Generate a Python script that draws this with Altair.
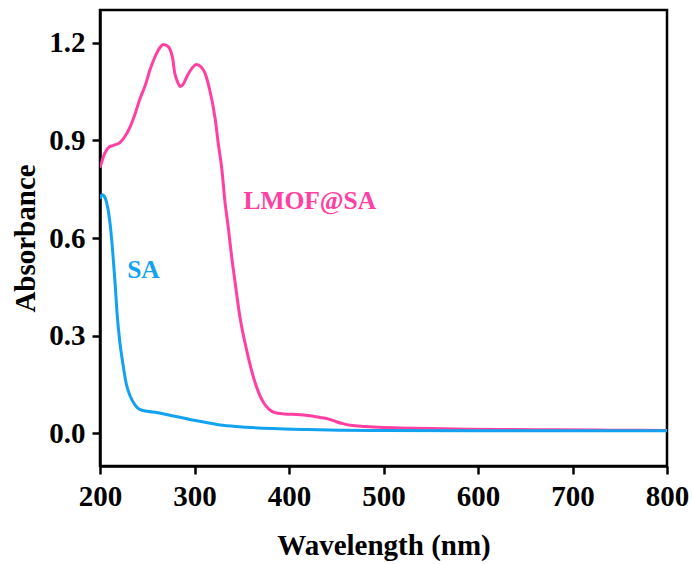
import altair as alt
import pandas as pd

# LMOF@SA spectrum (wavelength nm, absorbance)
lmof_wl = [200, 205, 210, 215, 221, 226, 232, 237, 242, 248, 253, 258, 263, 267, 271, 274, 277, 279, 282, 285, 288, 292, 297, 302, 307, 311, 316, 322, 325, 329, 332, 336, 339, 343, 348, 355, 364, 373, 379, 385, 395, 408, 420, 433, 443, 450, 457, 465, 480, 500, 517, 550, 590, 623, 680, 740, 800]
lmof_ab = [0.816, 0.86, 0.88, 0.885, 0.893, 0.91, 0.942, 0.98, 1.025, 1.07, 1.117, 1.155, 1.183, 1.194, 1.19, 1.18, 1.15, 1.108, 1.08, 1.065, 1.072, 1.096, 1.12, 1.133, 1.125, 1.107, 1.056, 0.964, 0.893, 0.81, 0.718, 0.626, 0.55, 0.463, 0.359, 0.258, 0.157, 0.095, 0.074, 0.064, 0.060, 0.058, 0.055, 0.049, 0.043, 0.036, 0.030, 0.025, 0.021, 0.018, 0.017, 0.015, 0.013, 0.012, 0.011, 0.010, 0.009]

# SA spectrum
sa_wl = [200, 202, 204, 207, 210, 213, 216, 218, 221, 224, 228, 232, 237, 242, 250, 260, 275, 295, 310, 330, 355, 383, 420, 454, 500, 600, 700, 800]
sa_ab = [0.72, 0.733, 0.73, 0.709, 0.66, 0.574, 0.46, 0.371, 0.28, 0.218, 0.15, 0.114, 0.088, 0.074, 0.068, 0.064, 0.055, 0.043, 0.035, 0.025, 0.019, 0.015, 0.012, 0.010, 0.009, 0.008, 0.008, 0.008]

# series label positions (wavelength, absorbance)
label_text = ["LMOF@SA", "SA"]
label_wl = [422, 246]
label_ab = [0.715, 0.503]

pink = "#FF40A2"
blue = "#12A2F0"

df = pd.concat([
    pd.DataFrame({"wl": lmof_wl, "ab": lmof_ab, "s": "LMOF@SA"}),
    pd.DataFrame({"wl": sa_wl, "ab": sa_ab, "s": "SA"}),
])

labels = pd.DataFrame({"wl": label_wl, "ab": label_ab, "s": label_text})

font = "Liberation Serif"

x = alt.X("wl:Q", scale=alt.Scale(domain=[200, 800], nice=False, zero=False),
          axis=alt.Axis(title="Wavelength (nm)", values=[200, 300, 400, 500, 600, 700, 800],
                        format="d", labelPadding=8, titlePadding=20, labelFlush=False))
y = alt.Y("ab:Q", scale=alt.Scale(domain=[-0.1, 1.3], nice=False, zero=False),
          axis=alt.Axis(title="Absorbance", values=[0.0, 0.3, 0.6, 0.9, 1.2],
                        format=".1f", labelPadding=7, titlePadding=8, labelFlush=False))

color = alt.Color("s:N", scale=alt.Scale(domain=["LMOF@SA", "SA"], range=[pink, blue]), legend=None)

lines = alt.Chart(df).mark_line(strokeWidth=3, interpolate="monotone", clip=True).encode(
    x=x, y=y, color=color, detail="s:N")

text = alt.Chart(labels).mark_text(font=font, fontWeight="bold", fontSize=25.5, align="center", baseline="middle").encode(
    x="wl:Q", y="ab:Q", text="s:N", color=color)

chart = (lines + text).properties(
    width=567, height=456,
    autosize=alt.AutoSizeParams(type="none"),
    padding={"left": 100, "top": 10, "right": 25, "bottom": 98},
).configure_view(
    stroke="black", strokeWidth=2.5
).configure_axis(
    grid=False, domainColor="black", domainWidth=2.5, tickColor="black", tickWidth=2.5,
    tickSize=8, labelFont=font, labelFontWeight="bold", labelFontSize=29, labelColor="black",
    titleFont=font, titleFontWeight="bold", titleFontSize=29, titleColor="black",
    labelOverlap=False,
)

chart.save("out.html", embed_options={"renderer": "svg", "actions": False})
